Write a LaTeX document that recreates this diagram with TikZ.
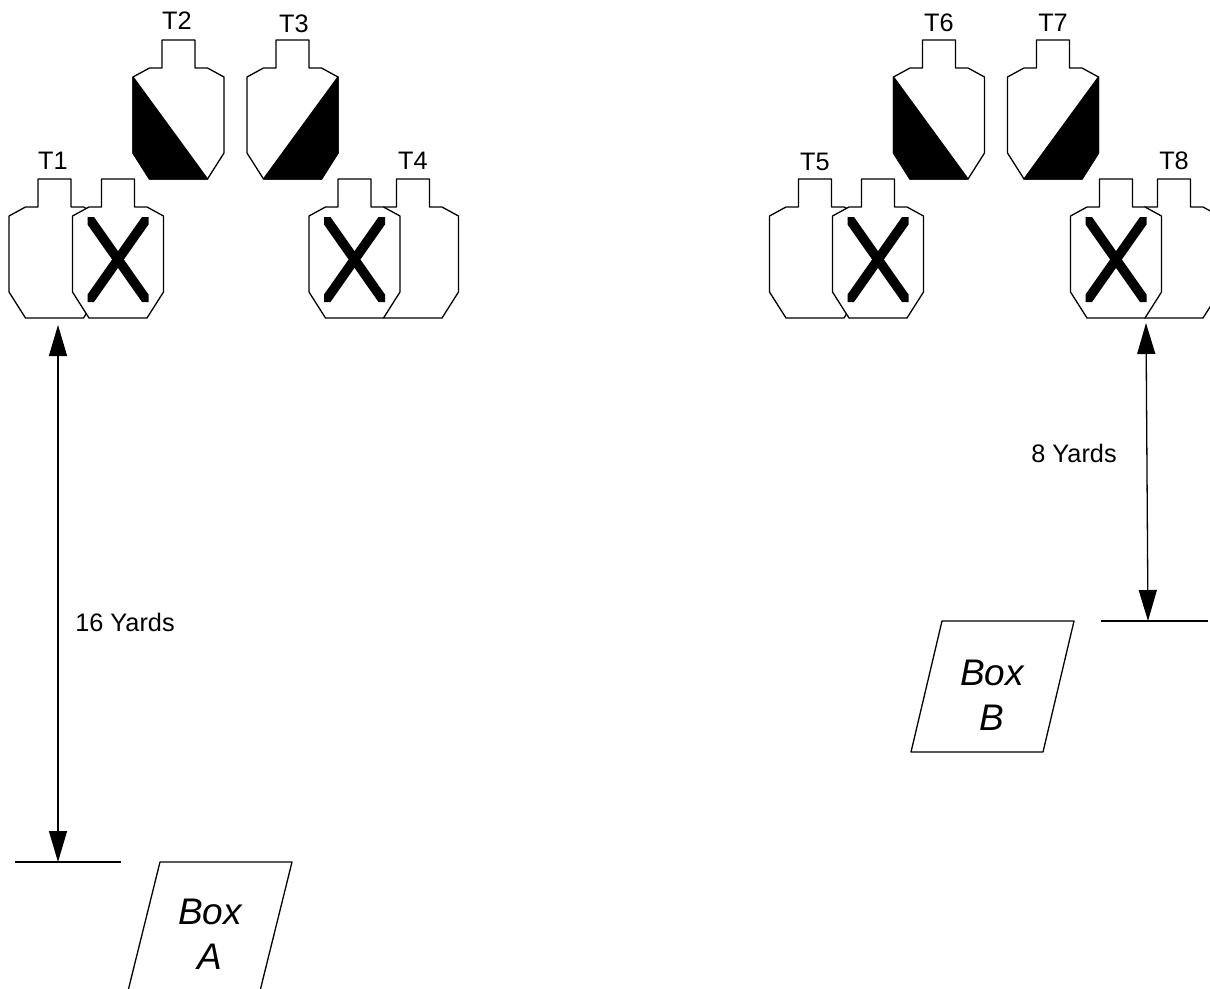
\documentclass[tikz,border=0pt]{standalone}
\usepackage{fontspec}
\setmainfont{Liberation Sans}
\usetikzlibrary{arrows.meta,calc,positioning}

\tikzset{
    outline/.style={draw=black, line width=1.3pt, line join=round},
    yardline/.style={draw=black, line width=1.3pt, {Triangle[length=31pt,width=18pt]}-{Triangle[length=31pt,width=18pt]}},
    tag/.style={font=\fontsize{25.3}{28}\selectfont, inner sep=0pt},
    boxtext/.style={font=\fontsize{37}{45}\selectfont\itshape, align=center, inner sep=0pt},
    pics/plaintarget/.style={code={
        \draw[outline, fill=white] (-16.5,0) -- (16.5,0) -- (16.5,28) -- (29,28) -- (45.5,37) -- (45.5,113) -- (29,139)
            -- (-29,139) -- (-45.5,113) -- (-45.5,37) -- (-29,28) -- (-16.5,28) -- cycle;
    }},
    pics/crosstarget/.style={code={
        \pic {plaintarget};
        \fill (-30.5,38) -- (-24,38) -- (30.5,115.5) -- (30.5,123) -- (24,123) -- (-30.5,45.5) -- cycle;
        \fill (30.5,38) -- (24,38) -- (-30.5,115.5) -- (-30.5,123) -- (-24,123) -- (30.5,45.5) -- cycle;
    }},
    pics/halftarget/.style={code={
        \pic {plaintarget};
        \fill[outline, fill=black] (-45.5,37) -- (29,139) -- (-29,139) -- (-45.5,113) -- cycle;
    }}
}

\begin{document}
\begin{tikzpicture}[x=1pt, y=-1pt]
    \clip[use as bounding box] (0,0) rectangle (1210,988);

    % Left group
    \pic at (178.5,40) {halftarget};
    \pic[xscale=-1] at (292.5,40) {halftarget};
    \pic at (54.5,179) {plaintarget};
    \pic at (118,179) {crosstarget};
    \pic at (413,179) {plaintarget};
    \pic at (354.5,179) {crosstarget};

    % Right group
    \pic at (939,40) {halftarget};
    \pic[xscale=-1] at (1053,40) {halftarget};
    \pic at (815,179) {plaintarget};
    \pic at (878,179) {crosstarget};
    \pic at (1174,179) {plaintarget};
    \pic at (1116,179) {crosstarget};

    % Target names
    \foreach \name/\x/\y in {T1/53/161, T2/177/21, T3/294/24, T4/413/161, T5/815/162, T6/939/23, T7/1053/23, T8/1174/161}
        \node[tag] (\name) at (\x,\y) {\name};

    % Box A, 16 yards
    \coordinate (footA) at (58,325);
    \coordinate (lineA) at (58,862);
    \coordinate (lineAleft) at (15,862);
    \coordinate (lineAright) at (121,862);
    \draw[outline] (lineAleft) -- (lineAright);
    \draw[yardline] (footA) -- (lineA);
    \node[tag] (yardsA) at (125,622) {16 Yards};
    \draw[outline] (160,862) -- (292,862) -- (259.5,993) -- (127.5,993) -- cycle;
    \node[boxtext] (boxA) at (210,934) {Box\\A};

    % Box B, 8 yards
    \coordinate (footB) at (1146,323);
    \coordinate (lineB) at (1148,621);
    \coordinate (lineBleft) at (1101,621);
    \coordinate (lineBright) at (1208,621);
    \draw[outline] (lineBleft) -- (lineBright);
    \draw[yardline] (footB) -- (lineB);
    \node[tag] (yardsB) at (1074,453) {8 Yards};
    \draw[outline] (942,621) -- (1074,621) -- (1043,752) -- (911,752) -- cycle;
    \node[boxtext] (boxB) at (992,695.5) {Box\\B};
\end{tikzpicture}
\end{document}
